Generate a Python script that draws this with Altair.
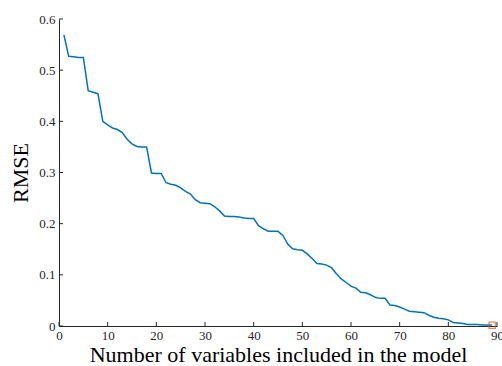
import altair as alt
import pandas as pd

# RMSE after each variable is added to the model
n_vars = list(range(1, 90))
rmse = [
    0.569, 0.527, 0.526, 0.525, 0.525, 0.460, 0.457, 0.454, 0.400, 0.393,
    0.387, 0.384, 0.378, 0.365, 0.356, 0.351, 0.350, 0.350, 0.299, 0.298,
    0.298, 0.280, 0.277, 0.275, 0.270, 0.263, 0.258, 0.247, 0.241, 0.240,
    0.239, 0.233, 0.225, 0.215, 0.214, 0.214, 0.213, 0.211, 0.210, 0.210,
    0.196, 0.190, 0.185, 0.185, 0.185, 0.177, 0.160, 0.151, 0.149, 0.148,
    0.141, 0.132, 0.122, 0.121, 0.119, 0.114, 0.102, 0.092, 0.085, 0.078,
    0.074, 0.066, 0.065, 0.061, 0.056, 0.054, 0.054, 0.041, 0.040, 0.037,
    0.033, 0.029, 0.028, 0.027, 0.026, 0.021, 0.017, 0.015, 0.014, 0.012,
    0.007, 0.006, 0.005, 0.003, 0.003, 0.003, 0.002, 0.002, 0.002,
]
best_n = [89]
best_rmse = [0.0015]

x_ticks = [0, 10, 20, 30, 40, 50, 60, 70, 80, 90]
y_ticks = [0, 0.1, 0.2, 0.3, 0.4, 0.5, 0.6]

W, H = 438, 307
FONT = "Liberation Serif"
INK = "#262626"

df = pd.DataFrame({"n": n_vars, "rmse": rmse})
best = pd.DataFrame({"n": best_n, "rmse": best_rmse})
xt = pd.DataFrame({"v": x_ticks})
yt = pd.DataFrame({"v": y_ticks})

xscale = alt.Scale(domain=[0, 90], nice=False, zero=False)
yscale = alt.Scale(domain=[0, 0.6], nice=False)

line = alt.Chart(df).mark_line(color="#0072BD", strokeWidth=1.5).encode(
    x=alt.X("n:Q", scale=xscale,
            axis=alt.Axis(values=x_ticks, title="Number of variables included in the model",
                          titlePadding=2, labelPadding=3)),
    y=alt.Y("rmse:Q", scale=yscale,
            axis=alt.Axis(values=y_ticks, format="~g", title="RMSE",
                          titlePadding=6, labelPadding=4)),
)

marker = alt.Chart(best).mark_point(shape="square", filled=False, color="#D95319",
                                    size=40, strokeWidth=1.2).encode(
    x=alt.X("n:Q", scale=xscale), y=alt.Y("rmse:Q", scale=yscale)
)

# inward-pointing tick marks
xtick_marks = alt.Chart(xt).mark_rule(color=INK, strokeWidth=1).encode(
    x=alt.X("v:Q", scale=xscale), y=alt.value(H), y2=alt.value(H - 4)
)
ytick_marks = alt.Chart(yt).mark_rule(color=INK, strokeWidth=1).encode(
    y=alt.Y("v:Q", scale=yscale), x=alt.value(0), x2=alt.value(4)
)

chart = (
    alt.layer(line, xtick_marks, ytick_marks, marker)
    .properties(width=W, height=H, autosize=alt.AutoSizeParams(type="none"),
                padding={"left": 59, "top": 19, "right": 5, "bottom": 40},
                background="white")
    .configure_view(stroke=None)
    .configure_axis(labelFont=FONT, labelFontSize=13, labelColor=INK,
                    titleFont=FONT, titleFontSize=22, titleFontWeight="normal",
                    titleColor="#000000", ticks=False, grid=False,
                    domainColor=INK, labelFlush=False)
)

chart.save("out.html", embed_options={"renderer": "svg", "actions": False})
